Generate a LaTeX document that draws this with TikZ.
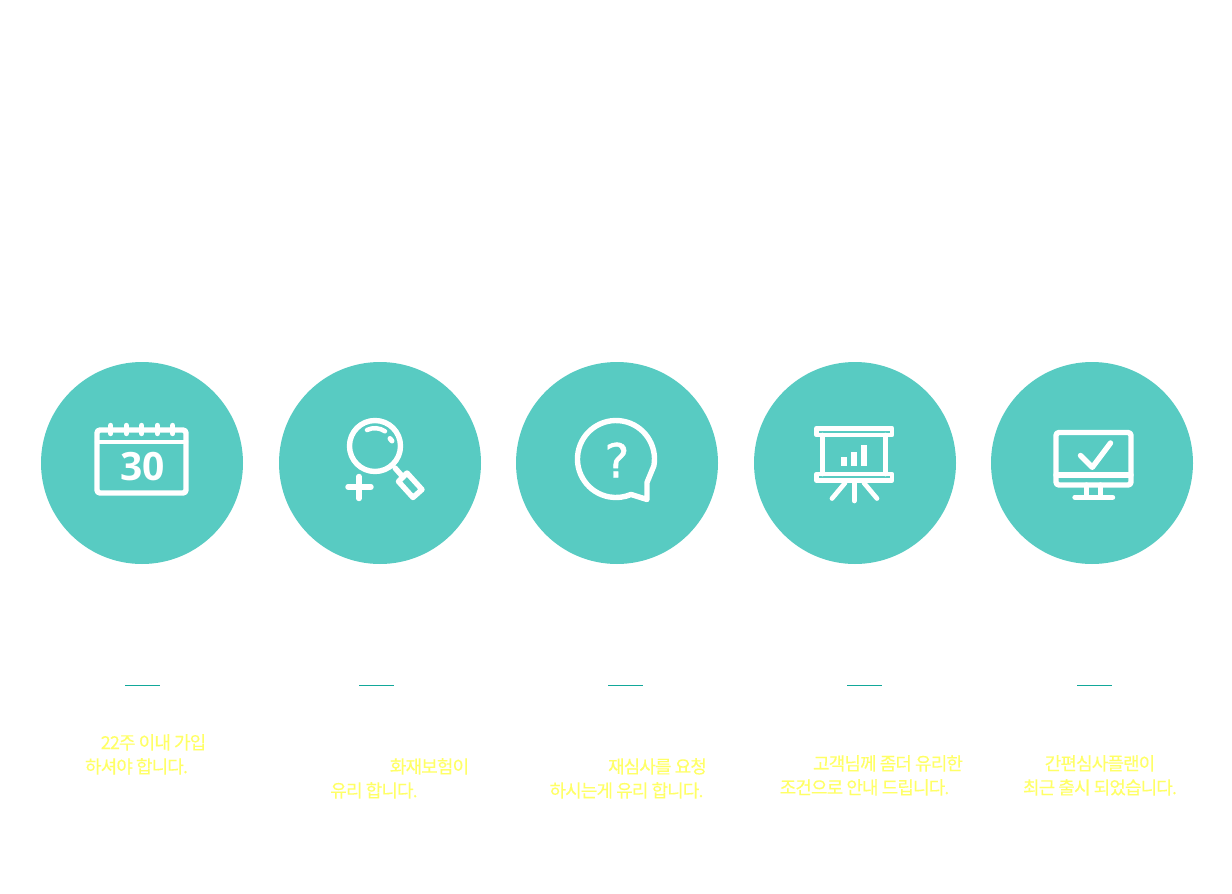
\documentclass[tikz,border=0pt]{standalone}
\usepackage{fontspec}
\setmainfont{Open Sans}
\newfontfamily\krfont[LetterSpace=-5,FakeBold=0.25]{Noto Sans CJK KR}
\newfontfamily\markfont[FakeBold=0.9]{DejaVu Sans}
\usepackage{xcolor}
\definecolor{tealfill}{HTML}{58CBC2}
\definecolor{tealrule}{HTML}{12A89A}
\definecolor{noteyellow}{HTML}{FFFF66}
\begin{document}
\begin{tikzpicture}[
    x=1pt, y=1pt, yscale=-1,
    disc/.style={circle, fill=tealfill, minimum size=202pt, inner sep=0pt},
    glyph/.style={draw=white, line width=5.4pt, line cap=round, line join=round},
    thinglyph/.style={glyph, line width=4.7pt},
    rulebar/.style={draw=tealrule, line width=1pt},
    note/.style={text=noteyellow, inner sep=0pt, font=\krfont\fontsize{18}{22}\selectfont}
]
    \useasboundingbox (0,0) rectangle (1232,894);

    \node[disc] (calendar) at (142,463) {};
    \node[disc] (search) at (380,463) {};
    \node[disc] (question) at (617,463) {};
    \node[disc] (board) at (855,463) {};
    \node[disc] (monitor) at (1092,463) {};

    % calendar
    \draw[glyph, rounded corners=3pt] (97,430) rectangle (186,493);
    \draw[glyph, line width=4.5pt] (97,442) -- (186,442);
    \draw[glyph] (110.7,425.5) -- (110.7,433.5);
    \draw[glyph] (126.3,425.5) -- (126.3,433.5);
    \draw[glyph] (141.7,425.5) -- (141.7,433.5);
    \draw[glyph] (157.3,425.5) -- (157.3,433.5);
    \draw[glyph] (172.7,425.5) -- (172.7,433.5);
    \node[text=white, inner sep=0pt, font=\bfseries\fontsize{39}{39}\selectfont] (thirty) at (142.5,467) {30};

    % magnifier
    \draw[glyph] (375,446) circle (25.5);
    \draw[glyph, line width=4.5pt] (367,430) arc (-116:-56:18);
    \draw[glyph, line width=5pt] (390,438.5) -- (392,441);
    \draw[glyph] (395,468) -- (403,477);
    \draw[glyph] (407,473) -- (422,489.5) -- (413,497.5) -- (398.5,481.5) -- cycle;
    \draw[glyph] (348,487) -- (371,487);
    \draw[glyph] (359,476.5) -- (359,498.5);

    % speech bubble
    \draw[glyph] (647,482.5) -- (653.9,465.7) arc (10:-293:38.5) -- (647,499.5) -- cycle;
    \node[text=white, inner sep=0pt, font=\markfont\fontsize{47}{47}\selectfont] (mark) at (617,460) {?};

    % presentation board
    \draw[thinglyph] (816.5,428.3) rectangle (892,435);
    \draw[thinglyph] (816.5,474) rectangle (892,480.5);
    \draw[thinglyph] (822.3,435) -- (822.3,474);
    \draw[thinglyph] (885.7,435) -- (885.7,474);
    \fill[white] (840.7,457.3) rectangle (846.7,465.7);
    \fill[white] (851,451.7) rectangle (857,465.7);
    \fill[white] (861,445) rectangle (867,465.7);
    \draw[thinglyph] (845,483) -- (832,498.5);
    \draw[thinglyph] (854.3,483) -- (854.3,501);
    \draw[thinglyph] (864,483) -- (877,498.5);

    % screen with check
    \draw[glyph, rounded corners=3pt] (1056,432.5) rectangle (1131,485);
    \draw[glyph] (1056,475) -- (1131,475);
    \draw[glyph] (1086.5,485) -- (1086.5,497);
    \draw[glyph] (1100.5,485) -- (1100.5,497);
    \draw[glyph] (1075,497.3) -- (1112.5,497.3);
    \draw[glyph] (1080.5,455.5) -- (1092.3,467.3) -- (1110.5,443);

    \draw[rulebar] (125,685.5) -- (160,685.5);
    \draw[rulebar] (359,685.5) -- (394,685.5);
    \draw[rulebar] (608,685.5) -- (643,685.5);
    \draw[rulebar] (847,685.5) -- (882,685.5);
    \draw[rulebar] (1077,685.5) -- (1112,685.5);

    \node[note] (notea) at (153.5,742.4) {22주 이내 가입};
    \node[note] (noteb) at (136.5,766.4) {하셔야 합니다.};
    \node[note] (notec) at (429.5,766.4) {화재보험이};
    \node[note] (noted) at (374,790.4) {유리 합니다.};
    \node[note] (notee) at (657.5,766.4) {재심사를 요청};
    \node[note] (notef) at (626.5,790.4) {하시는게 유리 합니다.};
    \node[note] (noteg) at (888,763.4) {고객님께 좀더 유리한};
    \node[note] (noteh) at (864.5,787.4) {조건으로 안내 드립니다.};
    \node[note] (notei) at (1100,763.4) {간편심사플랜이};
    \node[note] (notej) at (1100,787.4) {최근 출시 되었습니다.};
\end{tikzpicture}
\end{document}
